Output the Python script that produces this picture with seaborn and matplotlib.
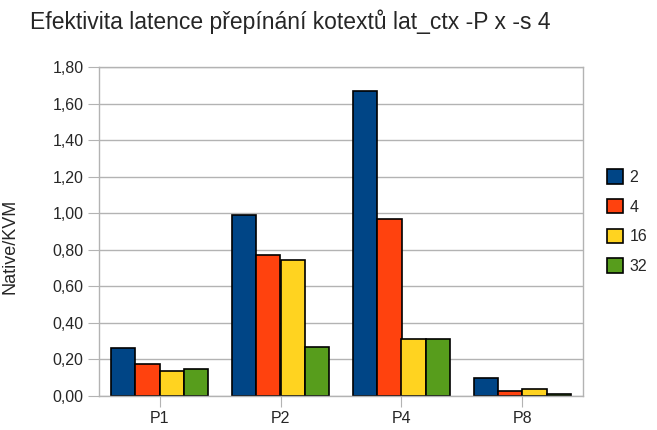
import seaborn as sns
import matplotlib.pyplot as plt
import matplotlib.ticker as mticker
import pandas as pd

categories = ['P1', 'P2', 'P4', 'P8']
series = ['2', '4', '16', '32']
vals_2 = [0.26, 0.99, 1.67, 0.10]
vals_4 = [0.175, 0.77, 0.97, 0.03]
vals_16 = [0.135, 0.745, 0.31, 0.04]
vals_32 = [0.15, 0.27, 0.31, 0.01]
colors = ['#004586', '#ff420e', '#ffd320', '#579d1c']

rows = []
for s, vals in zip(series, [vals_2, vals_4, vals_16, vals_32]):
    for c, v in zip(categories, vals):
        rows.append(dict(cat=c, ser=s, val=v))
df = pd.DataFrame(rows)

sns.set_style('white')
plt.rcParams['font.family'] = ['Liberation Sans', 'DejaVu Sans']

fig = plt.figure(figsize=(6.57, 4.30), dpi=100)
ax = fig.add_axes([99 / 657, 1 - 396 / 430, 484 / 657, 329 / 430])
sns.barplot(data=df, x='cat', y='val', hue='ser', order=categories,
            hue_order=series, palette=colors, width=0.8, ax=ax,
            edgecolor='black', linewidth=1.2, saturation=1, legend=True)

ax.set_ylim(0, 1.8)
ax.set_xlim(-0.5, 3.5)
ax.yaxis.set_major_locator(mticker.MultipleLocator(0.2))
ax.yaxis.set_major_formatter(mticker.FuncFormatter(lambda v, p: f'{v:.2f}'.replace('.', ',')))
ax.yaxis.grid(True, color='#b3b3b3', linewidth=1)
ax.set_axisbelow(True)
for sp in ax.spines.values():
    sp.set_color('#b3b3b3')
    sp.set_linewidth(1)
ax.tick_params(axis='both', length=8, color='#b3b3b3', labelsize=11.5, direction='out',
               left=True, bottom=True, pad=3)
ax.set_xlabel('')
ax.set_ylabel('Native/KVM', fontsize=13)
ax.yaxis.set_label_coords(-81 / 484, 0.455)
fig.text(30 / 657, 1 - 22 / 430, 'Efektivita latence přepínání kotextů lat_ctx -P x -s 4',
         fontsize=16.5, va='center', ha='left')

leg = ax.legend(loc='center left', bbox_to_anchor=(1.02, 0.53), frameon=False,
                fontsize=11.5, handlelength=1.0, handleheight=1.0, handletextpad=0.4,
                labelspacing=0.88)
for h in leg.legend_handles:
    h.set_edgecolor('black')

fig.savefig('out.png', dpi=100)
